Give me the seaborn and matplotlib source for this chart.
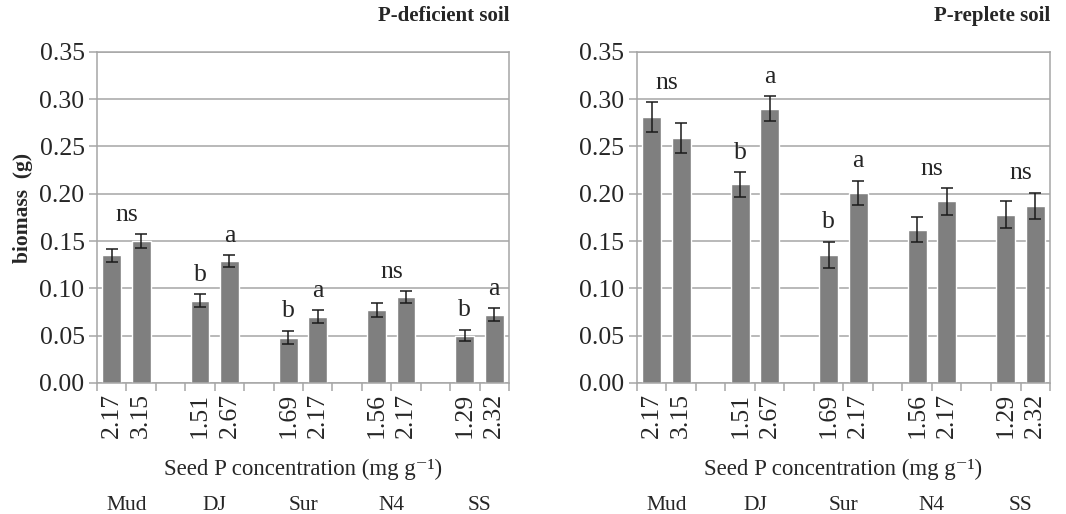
import numpy as np
import pandas as pd
import matplotlib
matplotlib.use("Agg")
import matplotlib.pyplot as plt
import seaborn as sns
from matplotlib.ticker import FixedLocator, MultipleLocator

# ---- data ----
genotypes = ["Mud", "DJ", "Sur", "N4", "SS"]
seed_p = [["2.17", "3.15"], ["1.51", "2.67"], ["1.69", "2.17"], ["1.56", "2.17"], ["1.29", "2.32"]]

deficient_mean = [[0.135, 0.150], [0.087, 0.129], [0.048, 0.070], [0.077, 0.091], [0.050, 0.072]]
deficient_err = [[0.007, 0.007], [0.007, 0.006], [0.007, 0.007], [0.007, 0.006], [0.006, 0.007]]
deficient_letters = [["ns"], ["b", "a"], ["b", "a"], ["ns"], ["b", "a"]]

replete_mean = [[0.281, 0.259], [0.210, 0.290], [0.135, 0.201], [0.162, 0.192], [0.178, 0.187]]
replete_err = [[0.016, 0.016], [0.013, 0.013], [0.014, 0.013], [0.013, 0.014], [0.014, 0.014]]
replete_letters = [["ns"], ["b", "a"], ["b", "a"], ["ns"], ["ns"]]

panels = [
    ("P-deficient soil", deficient_mean, deficient_err, deficient_letters),
    ("P-replete soil", replete_mean, replete_err, replete_letters),
]

sns.set_theme(style="white")
plt.rcParams["font.family"] = ["Liberation Serif", "DejaVu Serif"]

BAR = "#7f7f7f"
GRID = "#a6a6a6"
FS = 18.5

fig = plt.figure(figsize=(10.66, 5.14), dpi=100)
axes = [fig.add_axes([0.091, 0.255, 0.3865, 0.644]),
        fig.add_axes([0.5975, 0.255, 0.3875, 0.644])]

# slot layout: two bars per genotype, one empty slot between genotypes
order = []
labels = []
for g, name in enumerate(genotypes):
    for k in range(2):
        order.append(f"{name}_{k}")
        labels.append(seed_p[g][k])
    if g < len(genotypes) - 1:
        order.append(f"gap_{g}")
        labels.append("")

for ax, (title, means, errs, letters) in zip(axes, panels):
    rows = []
    for g, name in enumerate(genotypes):
        for k in range(2):
            rows.append({"slot": f"{name}_{k}", "biomass": means[g][k], "err": errs[g][k]})
    df = pd.DataFrame(rows)

    sns.barplot(data=df, x="slot", y="biomass", order=order, color=BAR,
                saturation=1, width=0.64, errorbar=None, ax=ax, zorder=2)

    xpos = np.array([order.index(s) for s in df["slot"]])
    ax.errorbar(xpos, df["biomass"], yerr=df["err"], fmt="none", ecolor="#1a1a1a",
                elinewidth=1.1, capsize=4, capthick=1.1, zorder=3)

    # significance letters
    for g, name in enumerate(genotypes):
        i0 = order.index(f"{name}_0")
        tops = [means[g][k] + errs[g][k] for k in range(2)]
        if len(letters[g]) == 1:
            ax.text(i0 + 0.5, max(tops) + 0.009, letters[g][0], ha="center", va="bottom",
                    fontsize=FS)
        else:
            for k in range(2):
                ax.text(i0 + k, tops[k] + 0.009, letters[g][k], ha="center", va="bottom",
                        fontsize=FS)

    ax.set_xlim(-0.5, len(order) - 0.5)
    ax.set_ylim(0, 0.35)
    ax.yaxis.set_major_locator(MultipleLocator(0.05))
    ax.set_yticklabels([f"{v:.2f}" for v in ax.get_yticks()], fontsize=FS)
    ax.grid(axis="y", color=GRID, linewidth=1.1, zorder=0)
    ax.set_axisbelow(True)

    ax.set_xticks(range(len(order)))
    ax.set_xticklabels(labels, rotation=90, fontsize=FS)
    ax.tick_params(axis="x", which="major", length=0, pad=7)
    ax.xaxis.set_minor_locator(FixedLocator(np.arange(-0.5, len(order), 1.0)))
    ax.tick_params(axis="x", which="minor", length=6, width=1.1, color=GRID, direction="out",
                   bottom=True)
    ax.tick_params(axis="y", length=6, width=1.1, color=GRID, direction="out", left=True, pad=3)

    for sp in ax.spines.values():
        sp.set_color(GRID)
        sp.set_linewidth(1.1)

    ax.set_xlabel("Seed P concentration (mg g\u207b\u00b9)", fontsize=16.5, labelpad=15)
    ax.set_ylabel("")
    ax.set_title(title, loc="right", fontsize=15, fontweight="bold", pad=22)

    for g, name in enumerate(genotypes):
        i0 = order.index(f"{name}_0")
        ax.text(i0 + 0.5, -0.37, name, transform=ax.get_xaxis_transform(),
                ha="center", va="center", fontsize=15.5)

axes[0].set_ylabel("biomass  (g)", fontsize=15.5, fontweight="bold")
axes[0].yaxis.set_label_coords(-0.155, 0.53)

fig.savefig("out.png", dpi=100)
